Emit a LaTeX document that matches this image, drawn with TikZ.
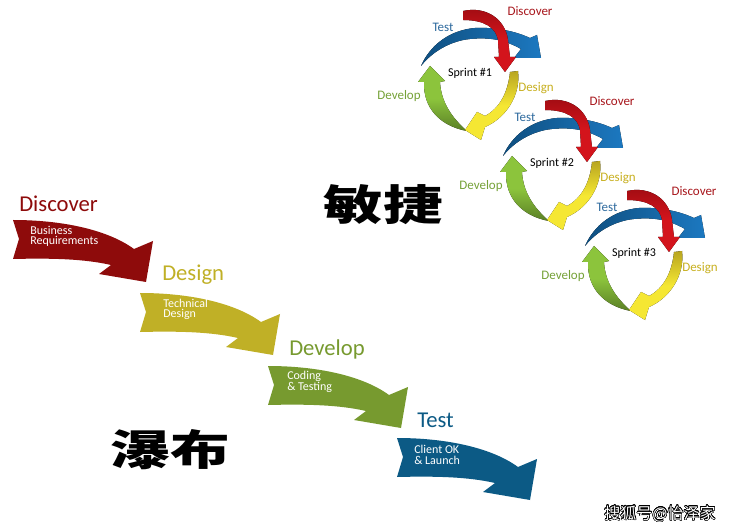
\documentclass[tikz,border=0pt]{standalone}
\usepackage{fontspec}
\setmainfont{Carlito}
\newfontfamily\cjk{Noto Sans CJK SC}
\usepackage{graphicx}
\usepackage{contour}
\contourlength{0.35pt}
\contournumber{24}
\definecolor{wfRed}{HTML}{8E0B0B}
\definecolor{wfOlive}{HTML}{C0B026}
\definecolor{wfGreen}{HTML}{779A2F}
\definecolor{wfBlue}{HTML}{0C5A85}
\definecolor{spRed}{HTML}{D3141C}
\definecolor{spRedD}{HTML}{9F0C12}
\definecolor{spBlue}{HTML}{1C78C0}
\definecolor{spBlueD}{HTML}{0F4F80}
\definecolor{spYellow}{HTML}{F5E733}
\definecolor{spYellowD}{HTML}{B8A520}
\definecolor{spGreen}{HTML}{8CC43C}
\definecolor{spGreenD}{HTML}{5A7F26}
\definecolor{lbTest}{HTML}{2E6A9E}
\definecolor{lbDisc}{HTML}{A8161C}
\definecolor{lbDesign}{HTML}{C8B020}
\definecolor{lbDevelop}{HTML}{76A238}
\tikzset{
  wflabel/.style={anchor=base west, inner sep=0, font=\fontsize{17}{20}\selectfont},
  wfinner/.style={anchor=north west, inner sep=0, align=left, text=white, font=\fontsize{9}{7.8}\selectfont},
  splabel/.style={inner sep=0, font=\fontsize{9.75}{11}\selectfont},
  sptext/.style={inner sep=0, text=black, font=\fontsize{9}{11}\selectfont},
  cjktext/.style={inner sep=0, text=black, font=\cjk\bfseries\fontsize{31.5}{36}\selectfont},
  pics/wfarrow/.style={code={
    \fill[#1] (0,0) .. controls (50,0) and (95,10) .. (121,29) -- (140,21) -- (133,62) -- (86,54) -- (98,45)
      .. controls (72,39) and (40,38) .. (0,39) -- (6,19) -- cycle;
  }},
  pics/sprint/.style={code={
    % Develop (green)
    \fill[top color=spGreen, bottom color=spGreenD, middle color=spGreen]
      (430,66) -- (418,82) -- (424,82) .. controls (423,108) and (440,126) .. (467,131)
      .. controls (452,118) and (441,102) .. (440,82) -- (445,81) -- cycle;
    % Test (blue)
    \fill[left color=spBlueD, right color=spBlue]
      (421,66) .. controls (430,45) and (450,30) .. (475,28) .. controls (495,27) and (515,31) .. (530,38)
      -- (537,35) -- (541,58) -- (514,58) -- (521,49)
      .. controls (505,40) and (490,37) .. (470,39) .. controls (450,41) and (432,52) .. cycle;
    % Discover (red)
    \fill[top color=spRedD, bottom color=spRed, middle color=spRed]
      (463,11) .. controls (485,6) and (505,18) .. (508,40) -- (510,57) -- (516,57) -- (505,72) -- (494,57)
      -- (499,57) -- (498,40) .. controls (496,28) and (485,20) .. (463,20) -- cycle;
    % Design (yellow)
    \fill[top color=spYellowD, bottom color=spYellow, middle color=spYellow]
      (510,72) -- (518,71) .. controls (521,95) and (506,118) .. (485,127) -- (481,140) -- (465,130)
      -- (477,112) -- (485,116) .. controls (500,108) and (508,92) .. cycle;
    \node[sptext] (-name) at (470,73) {Sprint \##1};
    \node[splabel, text=lbTest] (-test) at (443,27) {Test};
    \node[splabel, text=lbDisc] (-discover) at (530,11) {Discover};
    \node[splabel, text=lbDesign] (-design) at (536,88) {Design};
    \node[splabel, text=lbDevelop] (-develop) at (399,96) {Develop};
  }}
}
\begin{document}
\begin{tikzpicture}[x=0.75pt, y=-0.75pt]
\useasboundingbox[fill=white] (0,0) rectangle (730,530);

% Waterfall
\pic (a1) at (13,220) {wfarrow=wfRed};
\pic (a2) at (140,293) {wfarrow=wfOlive};
\pic (a3) at (268,366) {wfarrow=wfGreen};
\pic (a4) at (397,438) {wfarrow=wfBlue};

\node[wflabel, text=wfRed] (discover) at (19,212) {Discover};
\node[wflabel, text=wfOlive] (design) at (162,281) {Design};
\node[wflabel, text=wfGreen] (develop) at (289,355) {Develop};
\node[wflabel, text=wfBlue] (test) at (417,427) {Test};

\node[wfinner] (discoverTxt) at (30,226) {Business\\Requirements};
\node[wfinner] (designTxt) at (163,299) {Technical\\Design};
\node[wfinner] (developTxt) at (287,371) {Coding\\\& Testing};
\node[wfinner] (testTxt) at (414,445) {Client OK\\\& Launch};

% Agile sprints
\pic (s1) at (0,0) {sprint=1};
\pic (s2) at (82,90) {sprint=2};
\pic (s3) at (164,180) {sprint=3};

% Chinese titles
\node[cjktext] (agile) at (383,205) {\scalebox{1.42}[1]{敏捷}};
\node[cjktext] (waterfall) at (170,450) {\scalebox{1.42}[1]{瀑布}};

% watermark
\node[inner sep=0, font=\cjk\fontsize{12}{14}\selectfont] (wm) at (660,514) {\contour{black}{\textcolor{white}{搜狐号@怡泽家}}};
\end{tikzpicture}
\end{document}
